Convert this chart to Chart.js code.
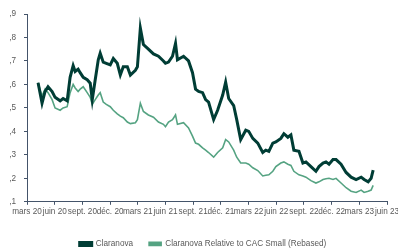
<!DOCTYPE html>
<html>
<head>
<meta charset="utf-8">
<script src="https://cdn.jsdelivr.net/npm/chart.js@4"></script>
<style>
  html, body { margin: 0; padding: 0; background: #fff; }
  #wrap { width: 398px; height: 248px; position: relative; }
</style>
</head>
<body>
<div id="wrap"><canvas id="chart"></canvas></div>
<script>
// months since 1 March 2020
const months = [1.20, 1.63, 1.96, 2.28, 2.72, 3.04, 3.59, 3.91, 4.35, 4.67, 5.00, 5.22, 5.54, 5.76, 6.09, 6.52, 6.85, 7.07, 7.39, 7.72,
  7.93, 8.26, 8.59, 9.02, 9.35, 9.78, 10.11, 10.43, 10.87, 11.20, 11.74, 11.96, 12.28, 12.61, 13.15, 13.70, 14.24, 14.78, 15.00, 15.33,
  15.76, 16.09, 16.30, 16.96, 17.50, 17.93, 18.26, 18.59, 19.02, 19.35, 19.67, 20.22, 20.65, 21.20, 21.52, 21.85, 22.39, 22.72, 23.15, 23.70,
  24.02, 24.46, 25.00, 25.54, 25.87, 26.20, 26.63, 26.96, 27.50, 27.83, 28.26, 28.59, 28.91, 29.46, 29.89, 30.22, 30.76, 31.30, 31.63, 32.07,
  32.39, 32.72, 33.15, 33.48, 34.02, 34.57, 35.11, 35.65, 36.20, 36.52, 36.96, 37.28, 37.50];

const claranova = [0.607, 0.52, 0.57, 0.59, 0.57, 0.545, 0.53, 0.54, 0.53, 0.63, 0.68, 0.655, 0.665, 0.65, 0.63, 0.62, 0.605, 0.535, 0.62, 0.705,
  0.733, 0.695, 0.69, 0.683, 0.71, 0.69, 0.64, 0.675, 0.675, 0.64, 0.66, 0.675, 0.84, 0.77, 0.75, 0.73, 0.72, 0.70, 0.69, 0.695,
  0.72, 0.775, 0.705, 0.72, 0.70, 0.65, 0.58, 0.57, 0.565, 0.535, 0.525, 0.45, 0.49, 0.555, 0.61, 0.54, 0.51, 0.45, 0.365, 0.405,
  0.40, 0.37, 0.35, 0.31, 0.32, 0.315, 0.35, 0.355, 0.37, 0.39, 0.375, 0.385, 0.32, 0.315, 0.265, 0.27, 0.25, 0.23, 0.25, 0.265,
  0.27, 0.26, 0.28, 0.28, 0.26, 0.225, 0.205, 0.195, 0.205, 0.195, 0.185, 0.20, 0.235];

const relative = [0.607, 0.55, 0.58, 0.565, 0.535, 0.50, 0.49, 0.50, 0.505, 0.565, 0.60, 0.585, 0.57, 0.58, 0.59, 0.565, 0.545, 0.515, 0.535, 0.555,
  0.565, 0.525, 0.515, 0.505, 0.49, 0.475, 0.465, 0.458, 0.44, 0.433, 0.437, 0.45, 0.52, 0.485, 0.47, 0.46, 0.44, 0.43, 0.42, 0.44,
  0.45, 0.47, 0.43, 0.437, 0.415, 0.38, 0.35, 0.345, 0.33, 0.32, 0.31, 0.29, 0.31, 0.33, 0.365, 0.355, 0.32, 0.29, 0.265, 0.265,
  0.26, 0.245, 0.233, 0.21, 0.213, 0.215, 0.23, 0.25, 0.265, 0.27, 0.26, 0.255, 0.23, 0.215, 0.21, 0.205, 0.19, 0.18, 0.185, 0.195,
  0.198, 0.20, 0.195, 0.20, 0.18, 0.16, 0.145, 0.14, 0.15, 0.14, 0.145, 0.15, 0.17];

const xTickLabels = ['mars 20', 'juin 20', 'sept. 20', 'déc. 20', 'mars 21', 'juin 21', 'sept. 21', 'déc. 21',
  'mars 22', 'juin 22', 'sept. 22', 'déc. 22', 'mars 23', 'juin 23'];
const yTickLabels = [',1', ',2', ',3', ',4', ',5', ',6', ',7', ',8', ',9'];

const seriesNames = ['Claranova', 'Claranova Relative to CAC Small (Rebased)'];

function toPoints(values) {
  return values.map((v, i) => ({ x: months[i], y: v }));
}

const FONT = { family: 'Liberation Sans', size: 8.2 };
const AXIS = '#44546a';

document.addEventListener('DOMContentLoaded', function () {
  const ctx = document.getElementById('chart').getContext('2d');
  new Chart(ctx, {
    type: 'line',
    data: {
      datasets: [{
        label: seriesNames[0],
        data: toPoints(claranova),
        borderColor: '#003d35',
        backgroundColor: '#003d35',
        borderWidth: 3,
        pointRadius: 0,
        tension: 0,
        fill: false
      }, {
        label: seriesNames[1],
        data: toPoints(relative),
        borderColor: '#55a382',
        backgroundColor: '#55a382',
        borderWidth: 1.6,
        pointRadius: 0,
        tension: 0,
        fill: false
      }]
    },
    options: {
      responsive: true,
      maintainAspectRatio: false,
      animation: false,
      layout: { padding: { left: 8, right: 0, top: 14, bottom: -10 } },
      plugins: {
        tooltip: { enabled: false },
        legend: {
          position: 'bottom',
          labels: {
            font: FONT,
            color: '#595959',
            boxWidth: 12,
            boxHeight: 3,
            padding: 16
          }
        }
      },
      scales: {
        x: {
          type: 'linear',
          min: 0,
          max: 39,
          grid: { display: true, drawOnChartArea: false, drawTicks: true, tickLength: 3, tickColor: AXIS },
          border: { display: true, color: AXIS, width: 1 },
          ticks: {
            stepSize: 3,
            autoSkip: false,
            maxRotation: 0,
            padding: 2,
            font: FONT,
            color: '#595959',
            callback: (v, i) => xTickLabels[i]
          },
          afterFit: function (scale) {
            scale.paddingLeft = 0;
            scale.paddingRight = 11;
            scale.height = 22;
          }
        },
        y: {
          min: 0.1,
          max: 0.9,
          grid: { display: true, drawOnChartArea: false, drawTicks: true, tickLength: 3, tickColor: AXIS },
          border: { display: true, color: AXIS, width: 1 },
          ticks: {
            stepSize: 0.1,
            padding: 8,
            font: FONT,
            color: '#595959',
            callback: (v, i) => yTickLabels[i]
          },
          afterFit: function (scale) {
            scale.width = 19;
          }
        }
      }
    }
  });
});
</script>
</body>
</html>
